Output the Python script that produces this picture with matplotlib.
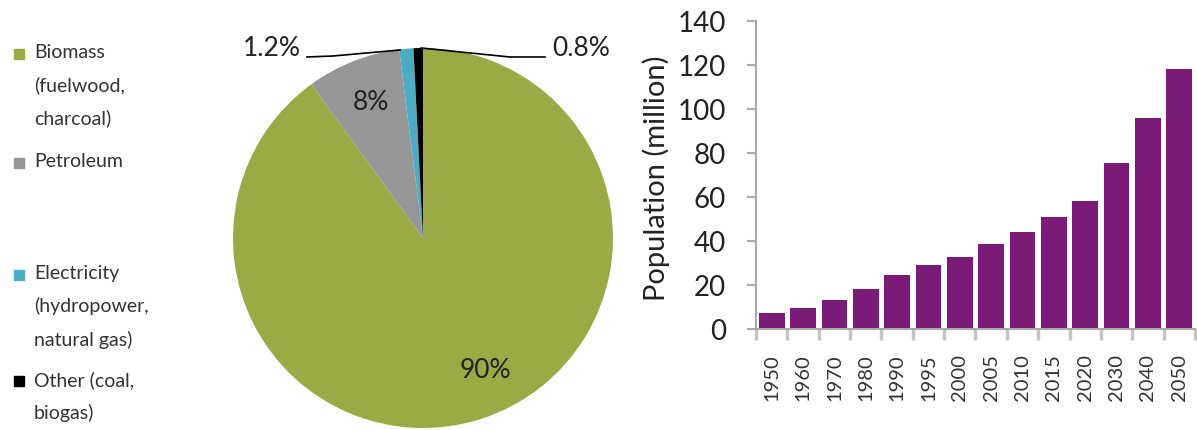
import matplotlib.pyplot as plt
from matplotlib.patches import Rectangle

plt.rcParams['font.family'] = ['Lato', 'DejaVu Sans']

# pie data
sources = ['Biomass\n(fuelwood,\ncharcoal)', 'Petroleum',
           'Electricity\n(hydropower,\nnatural gas)', 'Other (coal,\nbiogas)']
shares = [90, 8, 1.2, 0.8]
share_labels = ['90%', '8%', '1.2%', '0.8%']
pie_colors = ['#9BAA45', '#969696', '#4BACC6', '#000000']

# bar data
years = ['1950', '1960', '1970', '1980', '1990', '1995', '2000',
         '2005', '2010', '2015', '2020', '2030', '2040', '2050']
population = [7.3, 9.7, 13.4, 18.4, 24.4, 29.1, 32.9,
              38.8, 43.9, 51.1, 58.4, 75.4, 96, 118]

W, H = 1197, 430
fig = plt.figure(figsize=(W / 100, H / 100), dpi=100)

# pie, square axes centred on (423, 238) px
r = 190
ax1 = fig.add_axes([(423 - r) / W, (H - 238 - r) / H, 2 * r / W, 2 * r / H])
ax1.pie(shares, colors=pie_colors, startangle=90, counterclock=False,
        radius=1)
ax1.set_xlim(-1, 1)
ax1.set_ylim(-1, 1)
ax1.set_aspect('equal')
ax1.axis('off')

def px(x, y):
    # pixel coords -> pie axes data coords
    return (x - 423) / r, (238 - y) / r

txt = dict(fontsize=19, color='#222222', va='center', clip_on=False)
ax1.text(*px(485, 370), share_labels[0], ha='center', **txt)
ax1.text(*px(371, 102), share_labels[1], ha='center', **txt)
ax1.text(*px(301, 49), share_labels[2], ha='right', **txt)
ax1.text(*px(552, 49), share_labels[3], ha='left', **txt)
l1 = [px(307, 57), px(333, 56), px(400, 50)]
l2 = [px(421, 48), px(510, 57), px(545, 57)]
for pts in (l1, l2):
    ax1.plot([p[0] for p in pts], [p[1] for p in pts], color='black',
             lw=1.2, clip_on=False)

# legend on the left
legend_y = [44, 153, 265, 371]
for name, col, y in zip(sources, pie_colors, legend_y):
    fig.patches.append(Rectangle((14 / W, 1 - (y + 15) / H), 10 / W, 10 / H,
                                 transform=fig.transFigure, color=col))
    fig.text(34 / W, 1 - y / H, name, fontsize=14, color='#333333',
             va='top', ha='left', linespacing=2.02)

# bars
ax2 = fig.add_axes([756 / W, 1 - 329 / H, (1195 - 756) / W, (329 - 21) / H])
ax2.bar(range(len(years)), population, width=0.82, color='#7B1A77')
ax2.set_xlim(-0.5, len(years) - 0.5)
ax2.set_ylim(0, 140)
ax2.set_yticks(range(0, 141, 20))
ax2.set_xticks([i + 0.5 for i in range(-1, len(years))])
ax2.set_xticklabels([])
ax2.set_xticks(range(len(years)), minor=True)
ax2.set_xticklabels(years, minor=True, rotation=90, fontsize=14.5,
                    color='#333333')
ax2.tick_params(axis='x', which='minor', length=0, pad=18)
ax2.tick_params(axis='x', which='major', length=8, width=2.5,
                color='#C4C4C4')
ax2.tick_params(axis='y', length=6.5, width=1.5, color='#AAAAAA', pad=15,
                labelsize=20, labelcolor='#222222')
for s in ('top', 'right'):
    ax2.spines[s].set_visible(False)
for s in ('left', 'bottom'):
    ax2.spines[s].set_color('#AAAAAA')
    ax2.spines[s].set_linewidth(1.5)
ax2.set_ylabel('Population (million)', fontsize=21, color='#222222')
ax2.yaxis.set_label_coords(-0.196, 0.49)

fig.savefig('out.png', dpi=100)
